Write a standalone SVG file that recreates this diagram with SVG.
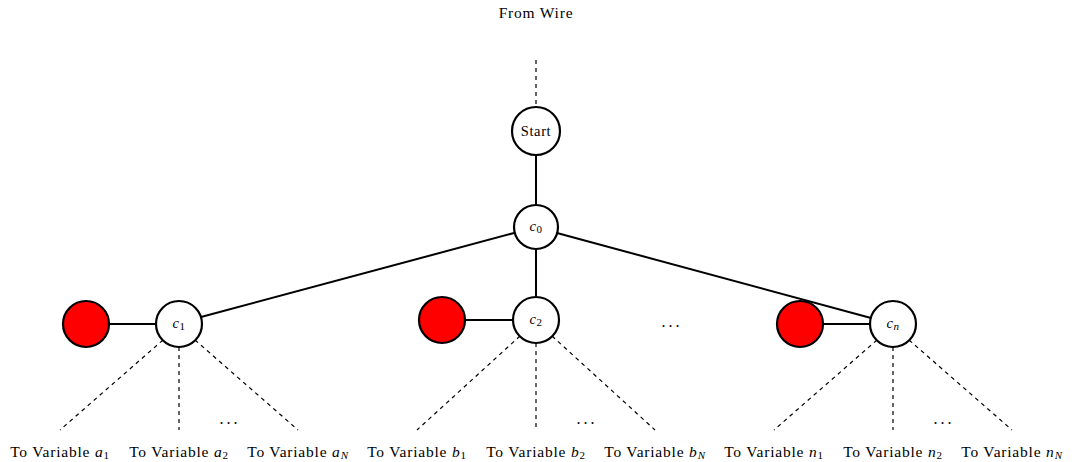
<svg xmlns="http://www.w3.org/2000/svg" width="1076" height="462" viewBox="0 0 1076 462">
<style>
text{font-family:"Liberation Serif","Times New Roman",serif;fill:#000}
.lbl{font-size:15.5px;text-anchor:middle;letter-spacing:0.8px}
.nl{font-size:14.5px;text-anchor:middle;letter-spacing:0.6px}
.dots{font-size:16px;text-anchor:middle;letter-spacing:3px}
.it{font-style:italic}
.sub{font-size:11px}
.node{fill:#fff;stroke:#000;stroke-width:2.2}
.red{fill:#ff0000;stroke:#000;stroke-width:2.2}
.solid{stroke:#000;stroke-width:2;fill:none}
.dash{stroke:#000;stroke-width:1.2;stroke-dasharray:4 4;fill:none}
</style>
<text class="lbl" x="536" y="18">From Wire</text>
<g id="connectors">
<line class="dash" x1="536" y1="60" x2="536" y2="107"/>
<line class="solid" x1="536" y1="155" x2="536" y2="205"/>
<line class="solid" x1="514" y1="233" x2="201" y2="317"/>
<line class="solid" x1="536" y1="249" x2="536" y2="296"/>
<line class="solid" x1="557" y1="233" x2="871" y2="318"/>
<line class="solid" x1="109" y1="324" x2="156" y2="324"/>
<line class="solid" x1="465" y1="320" x2="513" y2="320"/>
<line class="solid" x1="823" y1="324" x2="870" y2="324"/>
<line class="dash" x1="163" y1="340" x2="60" y2="430"/>
<line class="dash" x1="179" y1="347" x2="179" y2="430"/>
<line class="dash" x1="195" y1="340" x2="298" y2="430"/>
<line class="dash" x1="520" y1="336" x2="417" y2="430"/>
<line class="dash" x1="536" y1="343" x2="536" y2="430"/>
<line class="dash" x1="552" y1="336" x2="655" y2="430"/>
<line class="dash" x1="877" y1="340" x2="774" y2="430"/>
<line class="dash" x1="893" y1="347" x2="893" y2="430"/>
<line class="dash" x1="909" y1="340" x2="1012" y2="430"/>
</g>
<g id="start"><circle class="node" cx="536" cy="131" r="24"/><text class="nl" x="536" y="136">Start</text></g>
<g id="c0"><circle class="node" cx="536" cy="227" r="22"/><text class="nl" x="536" y="231"><tspan class="it">c</tspan><tspan class="sub" dy="2">0</tspan></text></g>
<g id="c1"><circle class="node" cx="179" cy="324" r="23"/><text class="nl" x="179" y="328"><tspan class="it">c</tspan><tspan class="sub" dy="2">1</tspan></text></g>
<g id="r1"><circle class="red" cx="86" cy="324" r="23"/></g>
<g id="c2"><circle class="node" cx="536" cy="320" r="23"/><text class="nl" x="536" y="324"><tspan class="it">c</tspan><tspan class="sub" dy="2">2</tspan></text></g>
<g id="r2"><circle class="red" cx="442" cy="320" r="23"/></g>
<g id="cn"><circle class="node" cx="893" cy="324" r="23"/><text class="nl" x="893" y="328"><tspan class="it">c</tspan><tspan class="sub it" dy="2">n</tspan></text></g>
<g id="rn"><circle class="red" cx="800" cy="324" r="23"/></g>
<text class="dots" x="672" y="327">...</text>
<text class="dots" x="230" y="424">...</text>
<text class="dots" x="587" y="424">...</text>
<text class="dots" x="944" y="424">...</text>
<g id="labels">
<text class="lbl" x="60" y="457">To Variable <tspan class="it">a</tspan><tspan class="sub" dy="2">1</tspan></text>
<text class="lbl" x="179" y="457">To Variable <tspan class="it">a</tspan><tspan class="sub" dy="2">2</tspan></text>
<text class="lbl" x="298" y="457">To Variable <tspan class="it">a</tspan><tspan class="sub it" dy="2">N</tspan></text>
<text class="lbl" x="417" y="457">To Variable <tspan class="it">b</tspan><tspan class="sub" dy="2">1</tspan></text>
<text class="lbl" x="536" y="457">To Variable <tspan class="it">b</tspan><tspan class="sub" dy="2">2</tspan></text>
<text class="lbl" x="655" y="457">To Variable <tspan class="it">b</tspan><tspan class="sub it" dy="2">N</tspan></text>
<text class="lbl" x="774" y="457">To Variable <tspan class="it">n</tspan><tspan class="sub" dy="2">1</tspan></text>
<text class="lbl" x="893" y="457">To Variable <tspan class="it">n</tspan><tspan class="sub" dy="2">2</tspan></text>
<text class="lbl" x="1012" y="457">To Variable <tspan class="it">n</tspan><tspan class="sub it" dy="2">N</tspan></text>
</g>
</svg>
